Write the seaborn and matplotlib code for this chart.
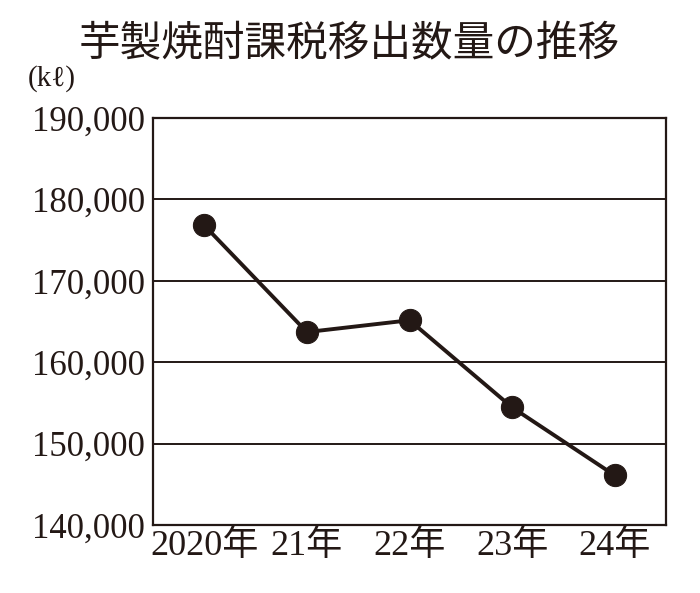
import numpy as np
import pandas as pd
import seaborn as sns
import matplotlib.pyplot as plt

# data (kl)
years = ["2020年", "21年", "22年", "23年", "24年"]
volume = [176800, 163700, 165150, 154450, 146100]

title = "芋製焼酎課税移出数量の推移"
unit = "(kℓ)"
y_ticks = [140000, 150000, 160000, 170000, 180000, 190000]

ink = "#231815"

sns.set_theme(style="white")
plt.rcParams['font.family'] = ['Liberation Serif', 'Noto Sans CJK JP', 'DejaVu Serif']

df = pd.DataFrame({"x": np.arange(len(years)), "volume": volume})

fig = plt.figure(figsize=(7, 5.93), dpi=100)
ax = fig.add_axes([0.2186, 0.1147, 0.7328, 0.6863])

# horizontal grid lines
for t in y_ticks[1:-1]:
    ax.axhline(t, color=ink, lw=1.4, zorder=1)

sns.lineplot(data=df, x="x", y="volume", ax=ax, color=ink, lw=2.8,
             marker="o", markersize=16, markeredgecolor=ink,
             markerfacecolor=ink, zorder=3)

ax.set_xlim(-0.5, len(years) - 0.5)
ax.set_ylim(140000, 190000)
ax.set_xticks(df["x"])
ax.set_xticklabels(years)
ax.set_yticks(y_ticks)
ax.set_yticklabels([f"{v:,}" for v in y_ticks])
ax.set_xlabel("")
ax.set_ylabel("")

for s in ax.spines.values():
    s.set_color(ink)
    s.set_linewidth(1.6)

ax.tick_params(axis="x", direction="in", length=7, width=1.4, color=ink,
               labelsize=26, labelcolor=ink, pad=3)
ax.tick_params(axis="y", length=0, labelsize=25, labelcolor=ink, pad=6)

fig.text(0.499, 0.925, title, ha="center", va="center", fontsize=30,
         color=ink, family=['Noto Sans CJK JP', 'DejaVu Sans'])
fig.text(0.04, 0.868, unit, ha="left", va="center", fontsize=21,
         color=ink, family=['Liberation Serif', 'DejaVu Serif'])

fig.savefig("out.png", dpi=100)
